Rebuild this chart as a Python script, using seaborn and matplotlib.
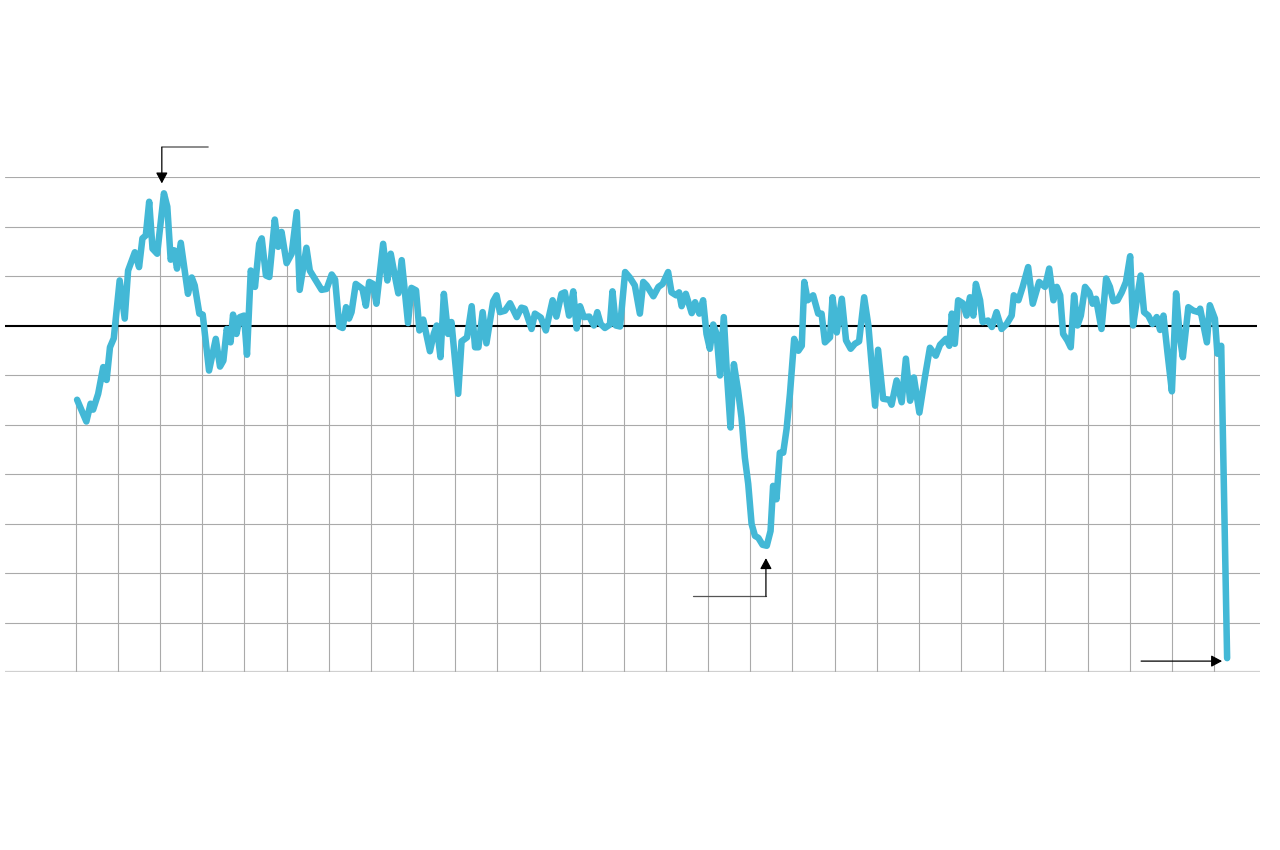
import numpy as np
import pandas as pd
import seaborn as sns
import matplotlib.pyplot as plt

# index readings (decimal year, value)
years = [1993.03, 1993.25, 1993.35, 1993.41, 1993.53, 1993.65, 1993.73, 1993.81, 1993.90, 1994.04,
         1994.16, 1994.24, 1994.40, 1994.50, 1994.58, 1994.66, 1994.74, 1994.82, 1994.93, 1995.09,
         1995.17, 1995.25, 1995.33, 1995.40, 1995.49, 1995.57, 1995.66, 1995.75, 1995.82, 1995.93,
         1996.01, 1996.16, 1996.32, 1996.42, 1996.50, 1996.58, 1996.67, 1996.73, 1996.81, 1996.89,
         1996.99, 1997.06, 1997.15, 1997.25, 1997.35, 1997.41, 1997.51, 1997.59, 1997.72, 1997.80,
         1997.88, 1998.00, 1998.12, 1998.24, 1998.31, 1998.47, 1998.55, 1998.83, 1998.95, 1999.07,
         1999.15, 1999.25, 1999.33, 1999.41, 1999.48, 1999.54, 1999.64, 1999.80, 1999.88, 1999.96,
         2000.05, 2000.13, 2000.29, 2000.39, 2000.47, 2000.55, 2000.65, 2000.73, 2000.88, 2000.96,
         2001.07, 2001.15, 2001.24, 2001.40, 2001.49, 2001.56, 2001.65, 2001.73, 2001.83, 2001.91,
         2002.07, 2002.15, 2002.28, 2002.39, 2002.47, 2002.55, 2002.65, 2002.74, 2002.90, 2002.98,
         2003.06, 2003.18, 2003.30, 2003.46, 2003.57, 2003.65, 2003.81, 2003.89, 2004.03, 2004.15,
         2004.31, 2004.40, 2004.52, 2004.60, 2004.70, 2004.80, 2004.88, 2004.96, 2005.05, 2005.18,
         2005.29, 2005.37, 2005.45, 2005.55, 2005.67, 2005.73, 2005.81, 2005.91, 2006.03, 2006.14,
         2006.26, 2006.38, 2006.46, 2006.54, 2006.70, 2006.82, 2006.92, 2007.05, 2007.13, 2007.24,
         2007.31, 2007.37, 2007.47, 2007.61, 2007.69, 2007.79, 2007.88, 2007.96, 2008.04, 2008.12,
         2008.20, 2008.28, 2008.37, 2008.45, 2008.53, 2008.61, 2008.71, 2008.79, 2008.87, 2008.95,
         2009.03, 2009.11, 2009.19, 2009.29, 2009.39, 2009.48, 2009.54, 2009.62, 2009.70, 2009.78,
         2009.86, 2009.94, 2010.04, 2010.14, 2010.22, 2010.28, 2010.36, 2010.49, 2010.61, 2010.69,
         2010.77, 2010.89, 2010.95, 2011.05, 2011.17, 2011.27, 2011.38, 2011.48, 2011.58, 2011.70,
         2011.80, 2011.96, 2012.03, 2012.15, 2012.30, 2012.35, 2012.47, 2012.59, 2012.69, 2012.79,
         2012.88, 2013.01, 2013.14, 2013.26, 2013.40, 2013.50, 2013.64, 2013.72, 2013.78, 2013.85,
         2013.93, 2014.04, 2014.13, 2014.21, 2014.29, 2014.35, 2014.45, 2014.51, 2014.64, 2014.73,
         2014.84, 2014.96, 2015.08, 2015.20, 2015.25, 2015.36, 2015.46, 2015.59, 2015.70, 2015.85,
         2015.99, 2016.09, 2016.19, 2016.27, 2016.35, 2016.42, 2016.52, 2016.60, 2016.68, 2016.76,
         2016.84, 2016.94, 2017.04, 2017.12, 2017.20, 2017.33, 2017.44, 2017.53, 2017.61, 2017.71,
         2017.81, 2017.91, 2018.01, 2018.08, 2018.19, 2018.26, 2018.34, 2018.44, 2018.54, 2018.64,
         2018.72, 2018.80, 2018.89, 2019.00, 2019.10, 2019.19, 2019.26, 2019.39, 2019.51, 2019.63,
         2019.67, 2019.83, 2019.90, 2020.02, 2020.08, 2020.17, 2020.31]

values = [-1.50, -1.94, -1.58, -1.70, -1.38, -0.84, -1.10, -0.44, -0.26, 0.91,
          0.14, 1.11, 1.48, 1.18, 1.76, 1.82, 2.50, 1.55, 1.45, 2.67,
          2.40, 1.33, 1.52, 1.15, 1.67, 1.18, 0.64, 0.97, 0.81, 0.24,
          0.22, -0.91, -0.27, -0.83, -0.71, -0.07, -0.34, 0.22, -0.17, 0.17,
          0.20, -0.59, 1.11, 0.78, 1.65, 1.76, 1.01, 0.98, 2.14, 1.59,
          1.89, 1.26, 1.45, 2.29, 0.72, 1.57, 1.11, 0.72, 0.74, 1.03,
          0.93, -0.02, -0.05, 0.37, 0.14, 0.27, 0.84, 0.74, 0.40, 0.88,
          0.84, 0.44, 1.65, 0.91, 1.45, 1.08, 0.65, 1.32, 0.05, 0.76,
          0.71, -0.10, 0.12, -0.52, -0.17, 0.00, -0.64, 0.64, -0.17, 0.07,
          -1.38, -0.32, -0.24, 0.39, -0.44, -0.44, 0.27, -0.36, 0.49, 0.61,
          0.27, 0.30, 0.45, 0.17, 0.36, 0.34, -0.07, 0.24, 0.16, -0.10,
          0.51, 0.18, 0.64, 0.67, 0.20, 0.69, -0.06, 0.39, 0.17, 0.18,
          0.00, 0.27, 0.03, -0.05, 0.02, 0.69, 0.00, -0.02, 1.08, 0.97,
          0.81, 0.24, 0.88, 0.81, 0.59, 0.78, 0.84, 1.08, 0.67, 0.61,
          0.67, 0.39, 0.64, 0.25, 0.47, 0.24, 0.51, -0.17, -0.47, 0.02,
          -0.17, -1.01, 0.17, -1.05, -2.06, -0.78, -1.32, -1.86, -2.67, -3.20,
          -4.01, -4.25, -4.29, -4.43, -4.45, -4.15, -3.24, -3.51, -2.57, -2.57,
          -2.09, -1.38, -0.27, -0.51, -0.41, 0.88, 0.51, 0.61, 0.24, 0.24,
          -0.34, -0.24, 0.57, -0.14, 0.54, -0.30, -0.47, -0.37, -0.32, 0.57,
          0.00, -1.62, -0.49, -1.48, -1.50, -1.60, -1.11, -1.55, -0.67, -1.52,
          -1.05, -1.76, -1.05, -0.45, -0.61, -0.39, -0.27, -0.41, 0.24, -0.37,
          0.51, 0.45, 0.20, 0.57, 0.20, 0.84, 0.51, 0.07, 0.10, -0.03,
          0.27, -0.07, 0.03, 0.20, 0.61, 0.51, 0.78, 1.18, 0.44, 0.88,
          0.78, 1.15, 0.51, 0.78, 0.61, -0.17, -0.30, -0.44, 0.61, 0.00,
          0.20, 0.78, 0.67, 0.44, 0.54, -0.07, 0.95, 0.78, 0.49, 0.51,
          0.67, 0.88, 1.40, 0.00, 0.64, 1.01, 0.27, 0.20, 0.03, 0.17,
          -0.09, 0.20, -0.51, -1.33, 0.65, -0.24, -0.64, 0.37, 0.30, 0.27,
          0.34, -0.34, 0.41, 0.14, -0.57, -0.41, -6.72]

grid_years = list(range(1993, 2021))
grid_values = [-7, -6, -5, -4, -3, -2, -1, 1, 2, 3]

df = pd.DataFrame({"year": years, "value": values})

line_color = "#43b8d6"

sns.set_style("white")
fig = plt.figure(figsize=(12.8, 8.5), dpi=100)
ax = fig.add_axes([5 / 1280, 178 / 850, 1255 / 1280, 495 / 850])

# horizontal grid
for v in grid_values:
    if v == -7:
        ax.axhline(v, color="#d0d0d0", lw=1.6, zorder=1)
    else:
        ax.axhline(v, color="#aaaaaa", lw=0.8, zorder=1)

# vertical year lines only go up to the curve
tops = np.interp(grid_years, df.year, df.value)
ax.vlines(grid_years, -7, tops, color="#aaaaaa", lw=0.8, zorder=1)

ax.plot([1991.3, 2021.02], [0, 0], color="black", lw=1.5, zorder=2, solid_capstyle="butt")

sns.lineplot(data=df, x="year", y="value", ax=ax, color=line_color, lw=4.7,
             zorder=3, solid_joinstyle="round", solid_capstyle="round")

# callout arrows (no labels)
arrow = dict(arrowstyle="-|>,head_length=0.65,head_width=0.35", color="black", lw=0.9,
             shrinkA=0, shrinkB=0)
ax.plot([1995.04, 1996.13], [3.60, 3.60], color="#777777", lw=1.2, clip_on=False)
ax.annotate("", xy=(1995.04, 2.87), xytext=(1995.04, 3.60), arrowprops=arrow,
            annotation_clip=False)
ax.plot([2007.64, 2009.37], [-5.47, -5.47], color="#555555", lw=0.9)
ax.annotate("", xy=(2009.37, -4.70), xytext=(2009.37, -5.47), arrowprops=arrow)
ax.annotate("", xy=(2020.19, -6.78), xytext=(2018.27, -6.78), arrowprops=arrow)

ax.set_xlim(1991.32, 2021.09)
ax.set_ylim(-7, 3)
ax.set_xlabel("")
ax.set_ylabel("")
ax.set_xticks([])
ax.set_yticks([])
sns.despine(ax=ax, left=True, bottom=True)
ax.patch.set_alpha(0)

plt.savefig("out.png", dpi=100)
